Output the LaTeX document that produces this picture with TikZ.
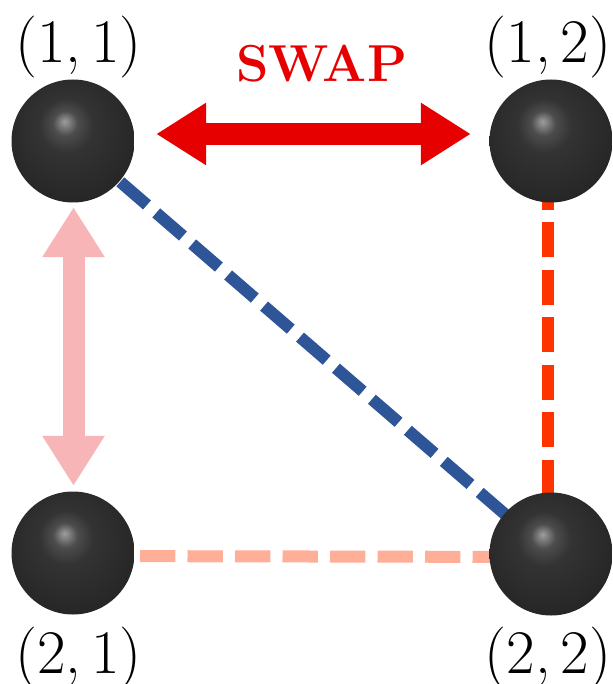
\documentclass[tikz,border=0pt]{standalone}
\usetikzlibrary{arrows.meta,backgrounds}
\definecolor{swapred}{HTML}{E60000}
\definecolor{pinkarrow}{HTML}{F7B5B7}
\definecolor{blueline}{HTML}{2E5597}
\definecolor{redline}{HTML}{FF3300}
\definecolor{salmonline}{HTML}{FFAE98}
\pgfdeclareradialshading{qball}{\pgfpoint{-3.5bp}{8bp}}{%
  color(0bp)=(black!38);
  color(5bp)=(black!70);
  color(11bp)=(black!80);
  color(28bp)=(black!85);
  color(44bp)=(black!93);
  color(50bp)=(black)}
\tikzset{
  qubit/.style={circle, minimum size=123pt, inner sep=0pt, shading=qball},
  poslabel/.style={anchor=base, inner sep=0pt, font=\fontsize{62}{64}\selectfont},
  fatarrow/.style={line width=22pt, {Triangle[length=50pt,width=59pt]}-{Triangle[length=50pt,width=59pt]}},
  dashlink/.style={line width=12pt, dash pattern=on 35.3pt off 12.2pt},
}
\begin{document}
\begin{tikzpicture}[x=1pt,y=-1pt]
\useasboundingbox (0,0) rectangle (612,684);
% qubits
\node[qubit] (b11) at (73,141) {};
\node[qubit] (b12) at (551,141) {};
\node[qubit] (b21) at (73,553) {};
\node[qubit] (b22) at (551,554) {};
% labels
\node[poslabel] (l11) at (78.5,63) {(1,\kern0.1667em1)};
\node[poslabel] (l12) at (548,63) {(1,\kern0.1667em2)};
\node[poslabel] (l21) at (78.5,673) {(2,\kern0.1667em1)};
\node[poslabel] (l22) at (548,673) {(2,\kern0.1667em2)};
\node[anchor=base, inner sep=0pt, text=swapred, font=\fontsize{52}{54}\selectfont\bfseries] (swap) at (321.7,82) {SWAP};
% dashed links behind the qubits
\begin{scope}[on background layer]
\draw[dashlink, blueline, dash phase=32.5pt] (b11.center) -- (b22.center);
\draw[dashlink, redline, dash phase=14pt] ([xshift=-3pt]b12.center) -- ([xshift=-3pt]b22.center);
\draw[dashlink, salmonline, dash phase=28pt] ([yshift=-3pt]b21.center) -- ([yshift=-3pt]b22.center);
\end{scope}
% arrows
\draw[fatarrow, swapred] ([shift={(21.5,-7)}]b11.east) -- ([shift={(-18.5,-7)}]b12.west);
\draw[fatarrow, pinkarrow] ([shift={(0.5,4.5)}]b11.south) -- ([shift={(0.5,-5.5)}]b21.north);
\end{tikzpicture}
\end{document}
